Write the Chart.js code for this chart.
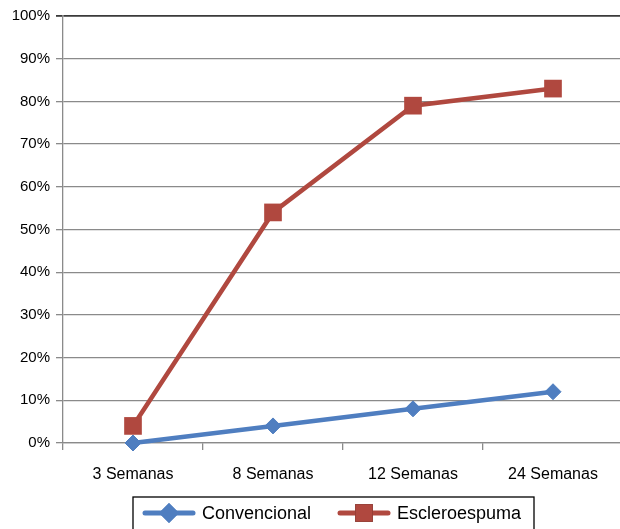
<!DOCTYPE html>
<html>
<head>
<meta charset="utf-8">
<script src="https://cdn.jsdelivr.net/npm/chart.js@4/dist/chart.umd.min.js"></script>
<style>
  html, body { margin: 0; padding: 0; background: #fff; overflow: hidden; }
  #wrap { width: 640px; height: 540px; }
</style>
</head>
<body>
<div id="wrap"><canvas id="c" width="640" height="540"></canvas></div>
<script>
// Categories (weeks of follow-up)
const categories = ['3 Semanas', '8 Semanas', '12 Semanas', '24 Semanas'];
// Percentage values per treatment
const convencional = [0, 4, 8, 12];
const escleroespuma = [4, 54, 79, 83];
const seriesNames = ['Convencional', 'Escleroespuma'];
// Y-axis tick values (percent)
const yTicks = [0, 10, 20, 30, 40, 50, 60, 70, 80, 90, 100];

const BLUE = '#4F7EC0';
const RED = '#B0483F';
const FONT = "'Liberation Sans', Arial, Helvetica, sans-serif";

// Boxed legend below the plot: line sample + marker + label
const boxLegend = {
  id: 'boxLegend',
  afterDraw(chart) {
    const ctx = chart.ctx;
    const ca = chart.chartArea;
    const left = ca.left + 70, top = ca.bottom + 54, w = 401, h = 40;
    ctx.save();
    ctx.strokeStyle = '#000';
    ctx.lineWidth = 1.3;
    ctx.strokeRect(left, top, w, h);
    const cy = top + 16;
    const items = [
      { x: left + 10, ds: chart.data.datasets[0] },
      { x: left + 205, ds: chart.data.datasets[1] }
    ];
    items.forEach(it => {
      const ds = it.ds;
      ctx.strokeStyle = ds.borderColor;
      ctx.lineWidth = 5;
      ctx.lineCap = 'round';
      ctx.beginPath();
      ctx.moveTo(it.x + 2, cy);
      ctx.lineTo(it.x + 50, cy);
      ctx.stroke();
      Chart.helpers.drawPoint(ctx, {
        pointStyle: ds.pointStyle,
        radius: ds.pointStyle === 'rect' ? 12.5 : 10,
        borderWidth: 0,
        rotation: 0
      }, it.x + 26, cy);
      ctx.fillStyle = ds.pointBackgroundColor;
      ctx.fill();
      ctx.fillStyle = '#000';
      ctx.font = '18px ' + FONT;
      ctx.textBaseline = 'middle';
      ctx.textAlign = 'left';
      ctx.fillText(ds.label, it.x + 59, cy + 1);
    });
    ctx.restore();
  }
};

new Chart(document.getElementById('c'), {
  type: 'line',
  data: {
    labels: categories,
    datasets: [
      {
        label: seriesNames[0],
        data: convencional,
        borderColor: BLUE,
        backgroundColor: BLUE,
        pointBackgroundColor: BLUE,
        pointBorderColor: BLUE,
        borderWidth: 4.5,
        pointStyle: 'rectRot',
        pointRadius: 8,
        pointBorderWidth: 1,
        tension: 0,
        clip: false
      },
      {
        label: seriesNames[1],
        data: escleroespuma,
        borderColor: RED,
        backgroundColor: RED,
        pointBackgroundColor: RED,
        pointBorderColor: RED,
        borderWidth: 4.5,
        pointStyle: 'rect',
        pointRadius: 12.5,
        pointBorderWidth: 0,
        tension: 0,
        clip: false
      }
    ]
  },
  options: {
    responsive: false,
    animation: false,
    layout: { padding: { top: 16, right: 17, bottom: 0, left: 0 } },
    plugins: {
      legend: { display: false },
      tooltip: { enabled: false }
    },
    scales: {
      x: {
        offset: true,
        grid: {
          offset: true,
          drawOnChartArea: false,
          drawTicks: true,
          tickLength: 7,
          color: '#8a8a8a',
          lineWidth: 1.3
        },
        border: { color: '#8a8a8a', width: 1.3 },
        ticks: {
          color: '#000',
          font: { family: FONT, size: 16 },
          padding: 15,
          maxRotation: 0
        },
        afterFit(scale) { scale.height = 540 - 443; }
      },
      y: {
        min: 0,
        max: 100,
        afterBuildTicks(scale) { scale.ticks = yTicks.map(v => ({ value: v })); },
        grid: {
          color: ctx => (ctx.tick && ctx.tick.value === 100) ? '#3a3a3a' : '#8a8a8a',
          lineWidth: ctx => (ctx.tick && ctx.tick.value === 100) ? 1.8 : 1.3,
          tickLength: 7
        },
        border: { color: '#8a8a8a', width: 1.3 },
        ticks: {
          color: '#000',
          font: { family: FONT, size: 15 },
          padding: 6,
          callback: v => v + '%'
        },
        afterFit(scale) { scale.width = 63; }
      }
    }
  },
  plugins: [boxLegend]
});
</script>
</body>
</html>
